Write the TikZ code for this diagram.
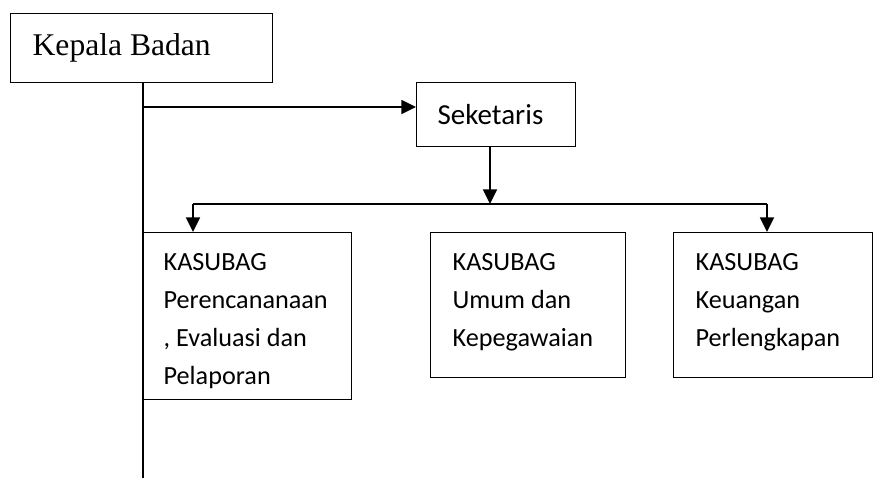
\documentclass[tikz,border=0pt]{standalone}
\usepackage{fontspec}
\setmainfont{Liberation Serif}
\newfontfamily\calibri{Carlito}
\usepackage{tikz}
\usetikzlibrary{arrows.meta}
\hyphenpenalty=10000
\tikzset{
  headbox/.style={
    draw=black,
    line width=1pt,
    anchor=north west,
    align=flush left,
    inner ysep=0pt
  },
  unitbox/.style={
    draw=black,
    line width=1pt,
    anchor=north west,
    align=flush left,
    inner xsep=16.5pt,
    inner ysep=8.55pt,
    font=\calibri\fontsize{19.65}{28.5}\selectfont
  },
  line/.style={line width=1.3pt, draw=black},
  arrow/.style={line width=1.3pt, draw=black, -{Triangle[length=11pt,width=10.5pt]}}
}

\begin{document}
\begin{tikzpicture}[x=0.75pt,y=-0.75pt]
  \useasboundingbox (0,0) rectangle (876,478);

  \node[headbox, inner xsep=16.5pt, text width=163.5pt, minimum height=51.75pt,
        font=\fontsize{23.7}{28}\selectfont] (kepala) at (10,13) {Kepala Badan};
  \node[headbox, inner xsep=15.75pt, text width=87.75pt, minimum height=48pt,
        font=\calibri\fontsize{21.75}{26}\selectfont] (sekretaris) at (416,82) {Seketaris};

  \node[unitbox, inner xsep=15pt, text width=126pt, text depth=88.2pt] (kasubagRen) at (143,232)
    {\strut KASUBAG\\Perencananaan\\, Evaluasi dan\\Pelaporan};
  \node[unitbox, text width=113.25pt, text depth=71.7pt] (kasubagUmum) at (430,232)
    {\strut KASUBAG\\Umum dan\\Kepegawaian};
  \node[unitbox, text width=116.25pt, text depth=71.7pt] (kasubagKeu) at (673,232)
    {\strut KASUBAG\\Keuangan\\Perlengkapan};

  % garis komando
  \coordinate (trunkEnd) at (143,478);
  \coordinate (cabang) at (143,107);
  \coordinate (bagi) at (490,204);
  \coordinate (bagiKiri) at (193,204);
  \coordinate (bagiKanan) at (767,204);

  \draw[line] (kepala.south -| trunkEnd) -- (trunkEnd);
  \draw[arrow] (cabang) -- (cabang -| sekretaris.west);
  \draw[arrow] (bagi |- sekretaris.south) -- (bagi);
  \draw[line] (bagiKiri) -- (bagiKanan);
  \draw[arrow] (bagiKiri) -- (bagiKiri |- kasubagRen.north);
  \draw[arrow] (bagiKanan) -- (bagiKanan |- kasubagKeu.north);
\end{tikzpicture}
\end{document}
